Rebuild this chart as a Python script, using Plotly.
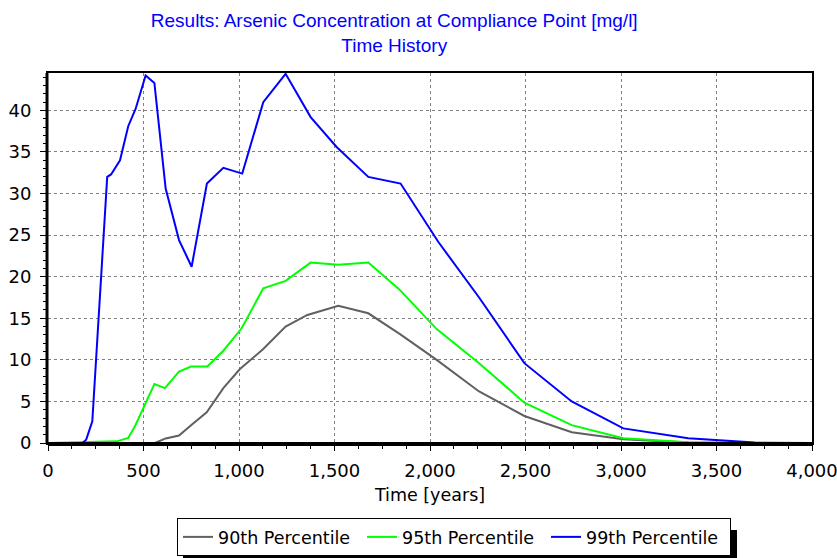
import plotly.graph_objects as go

# ---- data ----
t_p99 = [0, 180, 200, 232, 310, 330, 377, 420, 459, 511, 557, 616, 686, 752, 832, 918, 1017,
         1127, 1244, 1375, 1511, 1677, 1846, 2043, 2257, 2494, 2742, 3012, 3352, 3700, 4000]
v_p99 = [0, 0, 0.4, 2.6, 32.0, 32.3, 34.0, 38.1, 40.2, 44.2, 43.3, 30.6, 24.4, 21.2, 31.2, 33.1, 32.4,
         41.0, 44.4, 39.2, 35.6, 32.0, 31.2, 24.2, 17.5, 9.6, 5.0, 1.76, 0.56, 0.05, 0]

t_p95 = [0, 360, 420, 455, 499, 557, 612, 686, 749, 834, 918, 1014, 1127, 1244, 1375, 1520,
         1677, 1838, 2035, 2257, 2494, 2742, 3012, 3352, 3600, 4000]
v_p95 = [0, 0.2, 0.6, 2.0, 4.2, 7.1, 6.6, 8.6, 9.2, 9.2, 11.1, 13.8, 18.6, 19.5, 21.7, 21.45,
         21.7, 18.5, 13.7, 9.6, 4.85, 2.15, 0.56, 0.1, 0, 0]

t_p90 = [0, 560, 616, 686, 752, 831, 918, 1005, 1127, 1244, 1358, 1520, 1677, 1843, 2035,
         2257, 2494, 2742, 3012, 3352, 3600, 4000]
v_p90 = [0, 0, 0.55, 0.9, 2.2, 3.7, 6.6, 8.9, 11.3, 14.0, 15.4, 16.5, 15.6, 13.1, 10.0,
         6.2, 3.25, 1.3, 0.45, 0.05, 0, 0]

series_names = ["90th Percentile", "95th Percentile", "99th Percentile"]
series_colors = ["#606060", "#00FF00", "#0000FF"]
x_ticks = [0, 500, 1000, 1500, 2000, 2500, 3000, 3500, 4000]
x_ticklabels = ["0", "500", "1,000", "1,500", "2,000", "2,500", "3,000", "3,500", "4,000"]
y_ticks = [0, 5, 10, 15, 20, 25, 30, 35, 40]

TFONT = "Liberation Sans, Arial, sans-serif"
FONT = "DejaVu Sans, sans-serif"

fig = go.Figure()
for name, col, t, v in zip(series_names, series_colors,
                           [t_p90, t_p95, t_p99], [v_p90, v_p95, v_p99]):
    fig.add_trace(go.Scatter(x=t, y=v, mode="lines", name=name,
                             line=dict(color=col, width=2)))

# figure / plot area pixel geometry
FW, FH = 837, 558
L, R, T, B = 48, 812, 73, 443
W, H = R - L, B - T

def px_x(p):
    return (p - L) / W

def px_y(p):
    return (B - p) / H

shapes = [
    # legend shadow
    dict(type="rect", xref="paper", yref="paper",
         x0=px_x(183), x1=px_x(737), y0=px_y(562), y1=px_y(530),
         fillcolor="black", line=dict(width=0), layer="above"),
    # thick left axis
    dict(type="line", xref="paper", yref="paper", x0=px_x(L - 1), x1=px_x(L - 1),
         y0=0, y1=1, line=dict(color="black", width=3), layer="above"),
    # thick bottom axis
    dict(type="line", xref="paper", yref="paper", x0=0, x1=1,
         y0=px_y(B + 1), y1=px_y(B + 1), line=dict(color="black", width=4), layer="above"),
]

fig.update_layout(
    width=FW, height=FH,
    margin=dict(l=L, r=FW - R, t=T, b=FH - B, autoexpand=False),
    paper_bgcolor="white", plot_bgcolor="white",
    font=dict(family=FONT, size=18, color="black"),
    title=dict(text="Results: Arsenic Concentration at Compliance Point [mg/l]<br>Time History",
               x=0.471, xanchor="center", y=0.951, yanchor="top",
               font=dict(family=TFONT, size=19, color="#0000FF")),
    showlegend=True,
    legend=dict(orientation="h", xref="container", yref="container",
                x=177 / FW, xanchor="left", y=1 - 556 / FH, yanchor="bottom",
                bgcolor="white", bordercolor="black", borderwidth=1,
                font=dict(family=FONT, size=17.5), itemwidth=30,
                entrywidth=139, entrywidthmode="pixels",
                traceorder="normal"),
    shapes=shapes,
)

fig.update_xaxes(
    range=[0, 4000], tickmode="array", tickvals=x_ticks, ticktext=x_ticklabels,
    showgrid=True, gridcolor="#808080", griddash="dot", gridwidth=1,
    showline=True, linecolor="black", linewidth=2, mirror=True,
    ticks="outside", ticklen=6, tickcolor="black", tickwidth=1,
    minor=dict(dtick=125, ticks="outside", ticklen=4, tickcolor="black", showgrid=False),
    zeroline=False, ticklabelstandoff=4, ticklabeloverflow="allow", automargin=False,
    title=dict(text="Time [years]", font=dict(family=FONT, size=17.5), standoff=9),
    tickfont=dict(family=FONT, size=18),
)
fig.update_yaxes(
    range=[0, 44.5], tickmode="array", tickvals=y_ticks,
    showgrid=True, gridcolor="#808080", griddash="dot", gridwidth=1,
    showline=True, linecolor="black", linewidth=2, mirror=True,
    ticks="outside", ticklen=6, tickcolor="black", tickwidth=1,
    minor=dict(dtick=1, ticks="outside", ticklen=3, tickcolor="black", showgrid=False),
    zeroline=False, ticklabelstandoff=5, ticklabeloverflow="allow", automargin=False,
    tickfont=dict(family=FONT, size=18),
)

fig.write_html("out.html")
